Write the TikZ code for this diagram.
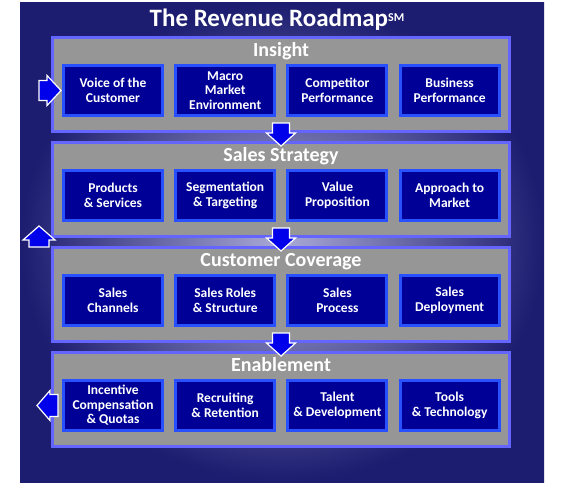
\documentclass[tikz,border=0pt]{standalone}
\usepackage{fontspec}
\setmainfont{Carlito}
\usetikzlibrary{calc}

\definecolor{bgouter}{RGB}{28,28,112}
\definecolor{bginner}{RGB}{170,170,215}
\definecolor{panelgray}{RGB}{150,150,150}
\definecolor{panelblue}{RGB}{100,100,255}
\definecolor{boxnavy}{RGB}{0,0,150}
\definecolor{boxblue}{RGB}{40,80,255}
\definecolor{arrowblue}{RGB}{0,0,235}

\tikzset{
  panel/.style={draw=panelblue, line width=3pt, fill=panelgray, inner sep=0pt,
    minimum width=457pt, minimum height=94pt},
  paneltitle/.style={anchor=base, text=white, inner sep=0pt,
    font=\bfseries\fontsize{20}{24}\selectfont},
  stagebox/.style={draw=boxblue, line width=3pt, fill=boxnavy, text=white, inner sep=0pt,
    minimum width=99pt, minimum height=50pt, align=center,
    font=\bfseries\fontsize{13.5}{14.5}\selectfont},
  blockarrow/.style={fill=arrowblue, draw=white, line width=1.2pt, line join=miter},
  downarrow/.pic={\draw[blockarrow] (-8.5,-10) -- (8.5,-10) -- (8.5,0) -- (14.5,0)
    -- (0,13) -- (-14.5,0) -- (-8.5,0) -- cycle;},
  rightarrow/.pic={\draw[blockarrow] (-22,-10) -- (-14,-10) -- (-14,-15) -- (0,0)
    -- (-14,15) -- (-14,10) -- (-22,10) -- cycle;},
  leftarrow/.pic={\draw[blockarrow] (0,0) -- (13,-15) -- (13,-11) -- (21,-11)
    -- (21,11) -- (13,11) -- (13,15) -- cycle;},
  uparrow/.pic={\draw[blockarrow] (0,0) -- (16,14) -- (10,14) -- (10,21)
    -- (-10,21) -- (-10,14) -- (-16,14) -- cycle;},
}

\begin{document}
\begin{tikzpicture}[x=1pt, y=-1pt]
\useasboundingbox (0,0) rectangle (564,488);
\fill[white] (0,0) rectangle (564,488);

% --- Background ---
\shade[inner color=bginner, outer color=bgouter] (20,2) rectangle (544,482);

% --- Title ---
\node[anchor=base, text=white, inner sep=0pt, font=\bfseries\fontsize{25}{30}\selectfont]
  (title) at (277,26) {The Revenue Roadmap{\fontsize{12}{12}\selectfont\raisebox{5pt}{SM}}};

% --- Panels ---
\node[panel] (ins) at (281,84.5) {};
\node[panel] (strat) at (281,189.5) {};
\node[panel] (cov) at (281,294.5) {};
\node[panel] (enab) at (281,399.5) {};

% --- Panel titles ---
\node[paneltitle] (insT) at (281,56) {Insight};
\node[paneltitle] (stratT) at (281,161) {Sales Strategy};
\node[paneltitle] (covT) at (281,266) {Customer Coverage};
\node[paneltitle] (enabT) at (281,371) {Enablement};

% --- Insight boxes ---
\node[stagebox] (ins1) at (113,90.5) {Voice of the\\Customer};
\node[stagebox] (ins2) at (225.2,90.5) {Macro\\Market\\Environment};
\node[stagebox] (ins3) at (337.4,90.5) {Competitor\\Performance};
\node[stagebox] (ins4) at (449.6,90.5) {Business\\Performance};

% --- Sales Strategy boxes ---
\node[stagebox] (strat1) at (113,195.5) {Products\\\& Services};
\node[stagebox] (strat2) at (225.2,195.5) {Segmentation\\\& Targeting};
\node[stagebox] (strat3) at (337.4,195.5) {Value\\Proposition};
\node[stagebox] (strat4) at (449.6,195.5) {Approach to\\Market};

% --- Customer Coverage boxes ---
\node[stagebox] (cov1) at (113,300.5) {Sales\\Channels};
\node[stagebox] (cov2) at (225.2,300.5) {Sales Roles\\\& Structure};
\node[stagebox] (cov3) at (337.4,300.5) {Sales\\Process};
\node[stagebox] (cov4) at (449.6,300.5) {Sales\\Deployment};

% --- Enablement boxes ---
\node[stagebox] (enab1) at (113,405.5) {Incentive\\Compensation\\\& Quotas};
\node[stagebox] (enab2) at (225.2,405.5) {Recruiting\\\& Retention};
\node[stagebox] (enab3) at (337.4,405.5) {Talent\\\& Development};
\node[stagebox] (enab4) at (449.6,405.5) {Tools\\\& Technology};

% --- Arrows ---
\foreach \p in {ins,strat,cov}
  \pic at (\p.south) {downarrow};
\pic at ([xshift=-1pt]ins1.west) {rightarrow};
\pic at ([xshift=-25pt]enab1.west) {leftarrow};
\pic at ($(strat.south west)+(-12,-12)$) {uparrow};

\end{tikzpicture}
\end{document}
